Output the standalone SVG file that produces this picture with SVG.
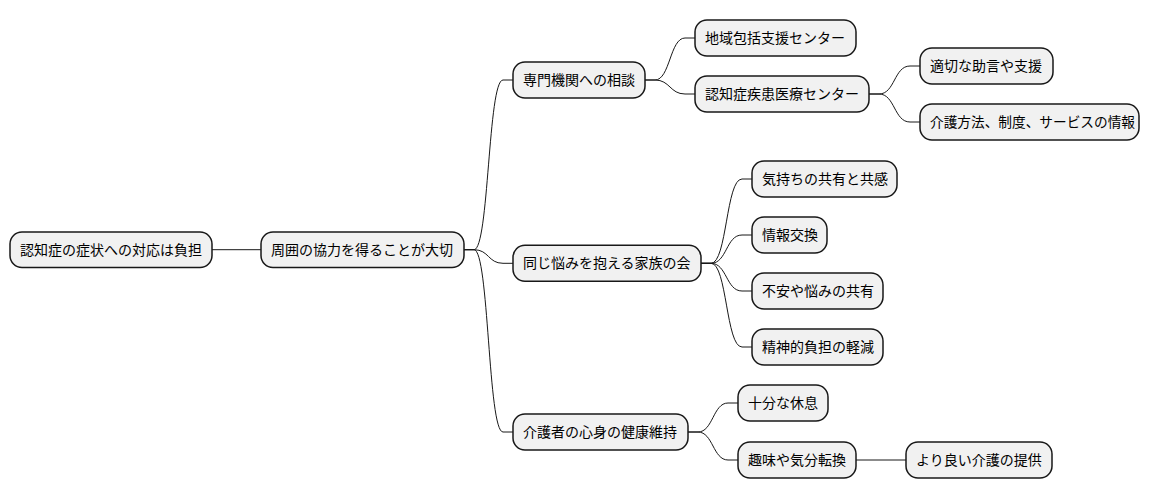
<svg xmlns="http://www.w3.org/2000/svg" width="1160" height="499" viewBox="0 0 1160 499">
<style>
.n rect{fill:#F1F1F1;stroke:#181818;stroke-width:1.5}
.n text{font-family:"Noto Sans CJK JP","Noto Sans",sans-serif;font-size:14px;fill:#000000}
#edges path{fill:none;stroke:#181818;stroke-width:1}
</style>
<rect width="1160" height="499" fill="#FFFFFF"/>
<g id="edges">
<path d="M212,249.7 L261,249.7"/>
<path d="M464,249.7 L474,249.7 C489,249.7 488,80 503,80 L513,80"/>
<path d="M464,249.7 L474,249.7 C489,249.7 488,263.3 503,263.3 L513,263.3"/>
<path d="M464,249.7 L474,249.7 C489,249.7 488,432 503,432 L513,432"/>
<path d="M645,80 L655,80 C670,80 670,38 685,38 L695,38"/>
<path d="M645,80 L655,80 C670,80 670,94 685,94 L695,94"/>
<path d="M869,94 L879,94 C895,94 894,66 910,66 L920,66"/>
<path d="M869,94 L879,94 C895,94 894,122 910,122 L920,122"/>
<path d="M701,263.3 L711,263.3 C727,263.3 726,179 742,179 L752,179"/>
<path d="M701,263.3 L711,263.3 C727,263.3 726,235 742,235 L752,235"/>
<path d="M701,263.3 L711,263.3 C727,263.3 726,291 742,291 L752,291"/>
<path d="M701,263.3 L711,263.3 C727,263.3 726,347 742,347 L752,347"/>
<path d="M688,432 L698,432 C713,432 713,403 728,403 L738,403"/>
<path d="M688,432 L698,432 C713,432 713,460 728,460 L738,460"/>
<path d="M856,460 L906,460"/>
</g>
<g id="root" class="n"><rect x="10" y="232" width="202" height="35.5" rx="12"/><text x="20" y="254.7">認知症の症状への対応は負担</text></g>
<g id="n2" class="n"><rect x="261" y="232" width="203" height="35.5" rx="12"/><text x="271" y="254.7">周囲の協力を得ることが大切</text></g>
<g id="a" class="n"><rect x="513" y="62" width="132" height="36" rx="12"/><text x="523" y="85">専門機関への相談</text></g>
<g id="a1" class="n"><rect x="695" y="20" width="161" height="36" rx="12"/><text x="705" y="43">地域包括支援センター</text></g>
<g id="a2" class="n"><rect x="695" y="76" width="174" height="36" rx="12"/><text x="705" y="99">認知症疾患医療センター</text></g>
<g id="a2a" class="n"><rect x="920" y="48" width="133" height="36" rx="12"/><text x="930" y="71">適切な助言や支援</text></g>
<g id="a2b" class="n"><rect x="920" y="104" width="219" height="36" rx="12"/><text x="930" y="127" textLength="205" lengthAdjust="spacingAndGlyphs">介護方法、制度、サービスの情報</text></g>
<g id="b" class="n"><rect x="513" y="245.3" width="188" height="36" rx="12"/><text x="523" y="268.3">同じ悩みを抱える家族の会</text></g>
<g id="b1" class="n"><rect x="752" y="161" width="145" height="36" rx="12"/><text x="762" y="184">気持ちの共有と共感</text></g>
<g id="b2" class="n"><rect x="752" y="217" width="75" height="36" rx="12"/><text x="762" y="240">情報交換</text></g>
<g id="b3" class="n"><rect x="752" y="273" width="131" height="36" rx="12"/><text x="762" y="296">不安や悩みの共有</text></g>
<g id="b4" class="n"><rect x="752" y="329" width="131" height="36" rx="12"/><text x="762" y="352">精神的負担の軽減</text></g>
<g id="c" class="n"><rect x="513" y="414" width="175" height="36" rx="12"/><text x="523" y="437">介護者の心身の健康維持</text></g>
<g id="c1" class="n"><rect x="738" y="385" width="90" height="36" rx="12"/><text x="748" y="408">十分な休息</text></g>
<g id="c2" class="n"><rect x="738" y="442" width="118" height="36" rx="12"/><text x="748" y="465">趣味や気分転換</text></g>
<g id="c2a" class="n"><rect x="906" y="442" width="146" height="36" rx="12"/><text x="916" y="465">より良い介護の提供</text></g>
</svg>
